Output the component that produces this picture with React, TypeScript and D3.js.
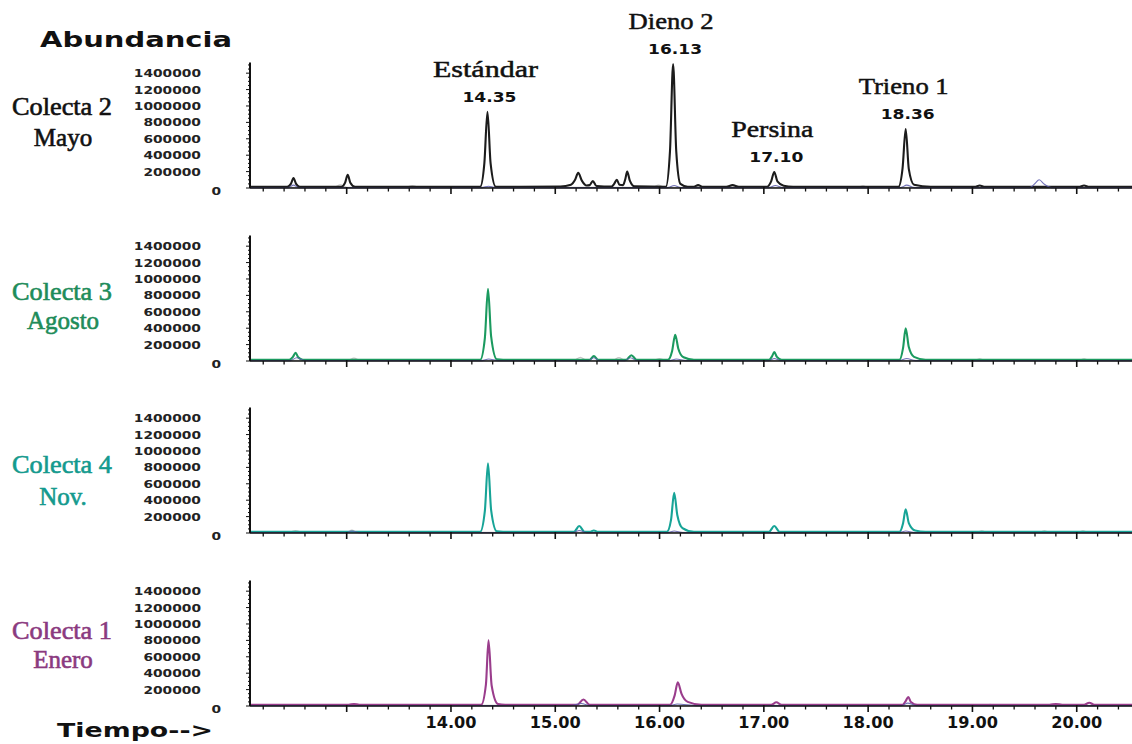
import React from "react";
import * as d3 from "d3";

type Pt = [number, number];

// ---------- data ----------
const TIME_TICKS = [14, 15, 16, 17, 18, 19, 20];
const TIME_LABELS = ["14.00", "15.00", "16.00", "17.00", "18.00", "19.00", "20.00"];
const ABUND_TICKS = [0, 200000, 400000, 600000, 800000, 1000000, 1200000, 1400000];

const PANEL_TITLES: [string, string][] = [
  ["Colecta 2", "Mayo"],
  ["Colecta 3", "Agosto"],
  ["Colecta 4", "Nov."],
  ["Colecta 1", "Enero"],
];

const PEAK_NAMES = ["Estándar", "Dieno 2", "Persina", "Trieno 1"];
const PEAK_RT = ["14.35", "16.13", "17.10", "18.36"];
const PEAK_TOP = [930000, 1510000, 195000, 720000];

const mayoTrace: Pt[] = [
  [12.07, 15000], [12.43, 15000], [12.465, 50000], [12.49, 120000], [12.515, 50000], [12.55, 15000],
  [12.95, 15000], [12.985, 65000], [13.01, 160000], [13.035, 65000], [13.08, 15000],
  [14.28, 15000], [14.32, 300000], [14.35, 930000], [14.38, 300000], [14.43, 15000],
  [15.05, 18000], [15.15, 40000], [15.19, 100000], [15.22, 185000], [15.255, 90000], [15.3, 30000],
  [15.33, 35000], [15.36, 85000], [15.395, 25000],
  [15.54, 18000], [15.565, 50000], [15.59, 100000], [15.615, 40000],
  [15.65, 35000], [15.67, 100000], [15.69, 200000], [15.715, 90000], [15.76, 20000],
  [16.06, 15000], [16.1, 450000], [16.13, 1510000], [16.16, 450000], [16.2, 50000], [16.27, 15000],
  [16.33, 15000], [16.37, 35000], [16.41, 15000],
  [16.64, 15000], [16.7, 35000], [16.76, 15000],
  [17.03, 15000], [17.07, 80000], [17.1, 195000], [17.13, 80000], [17.19, 28000], [17.28, 15000],
  [18.29, 15000], [18.33, 240000], [18.36, 720000], [18.39, 230000], [18.44, 40000], [18.6, 15000],
  [19.02, 15000], [19.07, 30000], [19.12, 15000],
  [20.02, 15000], [20.07, 30000], [20.12, 15000],
  [20.53, 15000],
];
const mayoBlue: Pt[] = [
  [12.07, 5000], [12.44, 5000], [12.49, 35000], [12.54, 5000], [14.3, 5000], [14.36, 22000], [14.42, 5000],
  [16.08, 5000], [16.14, 30000], [16.2, 5000], [17.05, 5000], [17.11, 30000], [17.18, 5000],
  [18.31, 5000], [18.37, 35000], [18.44, 5000], [19.55, 5000], [19.6, 55000], [19.64, 100000],
  [19.69, 45000], [19.76, 5000], [20.53, 5000],
];
const mayoGray: Pt[] = [
  [12.07, 8000], [12.88, 8000], [12.94, 38000], [13.0, 8000], [13.57, 8000], [13.63, 30000], [13.69, 8000],
  [15.93, 8000], [15.99, 35000], [16.05, 8000], [17.9, 8000], [17.95, 25000], [18.0, 8000], [20.53, 8000],
];

const agostoTrace: Pt[] = [
  [12.07, 15000], [12.45, 15000], [12.485, 50000], [12.51, 100000], [12.535, 45000], [12.58, 15000],
  [14.28, 15000], [14.325, 280000], [14.355, 880000], [14.385, 300000], [14.44, 20000], [14.5, 15000],
  [15.33, 15000], [15.37, 60000], [15.41, 15000],
  [15.68, 15000], [15.73, 70000], [15.78, 15000],
  [16.08, 15000], [16.12, 120000], [16.15, 320000], [16.18, 150000], [16.23, 45000], [16.33, 15000],
  [17.05, 15000], [17.08, 60000], [17.1, 110000], [17.125, 50000], [17.17, 15000],
  [18.3, 15000], [18.335, 160000], [18.36, 400000], [18.39, 170000], [18.44, 50000], [18.55, 15000],
  [20.53, 15000],
];
const agostoBlue: Pt[] = [
  [12.07, 5000], [12.46, 5000], [12.52, 40000], [12.6, 5000], [14.3, 5000], [14.36, 25000], [14.45, 5000],
  [15.32, 5000], [15.37, 40000], [15.42, 5000], [15.67, 5000], [15.72, 40000], [15.78, 5000],
  [16.1, 5000], [16.16, 25000], [16.25, 5000], [17.05, 5000], [17.1, 30000], [17.16, 5000],
  [18.3, 5000], [18.37, 30000], [18.45, 5000], [20.53, 5000],
];
const agostoGray: Pt[] = [
  [12.07, 8000], [13.01, 8000], [13.07, 35000], [13.13, 8000], [15.18, 8000], [15.24, 45000], [15.3, 8000],
  [15.55, 8000], [15.61, 40000], [15.67, 8000], [15.95, 8000], [16.0, 30000], [16.05, 8000],
  [19.02, 8000], [19.07, 25000], [19.12, 8000], [20.02, 8000], [20.07, 25000], [20.12, 8000], [20.53, 8000],
];

const novTrace: Pt[] = [
  [12.07, 15000], [14.28, 15000], [14.325, 270000], [14.355, 850000], [14.385, 280000], [14.44, 20000], [14.5, 15000],
  [15.18, 15000], [15.23, 85000], [15.28, 15000],
  [15.33, 15000], [15.37, 30000], [15.41, 15000],
  [16.07, 15000], [16.11, 160000], [16.14, 490000], [16.17, 220000], [16.22, 60000], [16.33, 15000],
  [17.05, 15000], [17.1, 85000], [17.15, 15000],
  [18.3, 15000], [18.335, 120000], [18.36, 290000], [18.39, 120000], [18.45, 30000], [18.55, 15000],
  [20.53, 15000],
];
const novBlue: Pt[] = [
  [12.07, 5000], [13.0, 5000], [13.05, 25000], [13.12, 5000], [15.17, 5000], [15.23, 30000], [15.3, 5000],
  [16.08, 5000], [16.14, 25000], [16.22, 5000], [18.3, 5000], [18.36, 25000], [18.44, 5000], [20.53, 5000],
];
const novGray: Pt[] = [
  [12.07, 8000], [12.45, 8000], [12.51, 30000], [12.57, 8000], [13.0, 8000], [13.05, 35000], [13.1, 8000],
  [19.04, 8000], [19.09, 25000], [19.14, 8000], [19.64, 8000], [19.69, 25000], [19.74, 8000],
  [20.01, 8000], [20.06, 25000], [20.11, 8000], [20.53, 8000],
];

const eneroTrace: Pt[] = [
  [12.07, 15000], [13.02, 15000], [13.07, 25000], [13.12, 15000],
  [14.29, 15000], [14.335, 260000], [14.36, 800000], [14.39, 250000], [14.45, 25000], [14.52, 15000],
  [15.21, 15000], [15.27, 80000], [15.33, 15000],
  [16.1, 15000], [16.145, 130000], [16.175, 290000], [16.21, 150000], [16.27, 50000], [16.4, 15000],
  [17.07, 15000], [17.12, 45000], [17.17, 15000],
  [18.33, 15000], [18.36, 60000], [18.385, 110000], [18.41, 50000], [18.47, 15000],
  [19.74, 15000], [19.8, 25000], [19.86, 15000],
  [20.07, 15000], [20.12, 40000], [20.17, 15000],
  [20.53, 15000],
];
const eneroBlue: Pt[] = [
  [12.07, 5000], [15.15, 5000], [15.25, 30000], [15.33, 5000], [16.1, 5000], [16.17, 25000], [16.35, 5000],
  [18.32, 5000], [18.38, 35000], [18.46, 5000], [20.53, 5000],
];
const eneroGray: Pt[] = [
  [12.07, 8000], [19.12, 8000], [19.17, 20000], [19.22, 8000], [20.53, 8000],
];

// ---------- layout ----------
const W = 1132;
const H = 744;
const X0 = 250;
const PANEL_BASE = [188, 361, 533, 706];
const PANEL_H = 125.5;
const Y_MAX = 1530000;
const TITLE_Y: [number, number][] = [[115, 146], [300, 329], [473, 505], [639, 668]];
const PANEL_COLORS = ["#1c1c1c", "#1b9a5f", "#17a497", "#9a3d8c"];
const TITLE_COLORS = ["#111111", "#1e8c5a", "#149a8e", "#8b3a7f"];

const TRACES = [mayoTrace, agostoTrace, novTrace, eneroTrace];
const BLUES = [mayoBlue, agostoBlue, novBlue, eneroBlue];
const GRAYS = [mayoGray, agostoGray, novGray, eneroGray];

const x = d3.scaleLinear().domain([12.073, 20.53]).range([X0, W]);
const minorTimes = d3.range(12.2, 20.55, 0.2).map((v) => Math.round(v * 10) / 10);

const SANS = "'DejaVu Sans', Verdana, sans-serif";
const SERIF = "'Liberation Serif', 'DejaVu Serif', serif";

function Panel({ i }: { i: number }) {
  const base = PANEL_BASE[i];
  const y = d3.scaleLinear().domain([0, Y_MAX]).range([base, base - PANEL_H]);
  const line = d3
    .line<Pt>()
    .x((d) => x(d[0]))
    .y((d) => y(d[1]))
    .curve(d3.curveMonotoneX);
  const minorY = d3.range(0, Y_MAX, 50000);
  return (
    <g>
      {/* titles */}
      <text x={62} y={TITLE_Y[i][0]} textAnchor="middle" fontFamily={SERIF} fontSize={25}
        fill={TITLE_COLORS[i]} stroke={TITLE_COLORS[i]} strokeWidth={0.6}
        textLength={100} lengthAdjust="spacingAndGlyphs">{PANEL_TITLES[i][0]}</text>
      <text x={63} y={TITLE_Y[i][1]} textAnchor="middle" fontFamily={SERIF} fontSize={25}
        fill={TITLE_COLORS[i]} stroke={TITLE_COLORS[i]} strokeWidth={0.6}>{PANEL_TITLES[i][1]}</text>
      {/* y tick labels */}
      {ABUND_TICKS.map((v) => {
        const s = String(v);
        return (
          <text key={v} x={v === 0 ? 221 : 201} y={v === 0 ? y(v) + 7 : y(v) + 4}
            textAnchor="end" fontFamily={SANS} fontWeight="bold" fontSize={11} fill="#222"
            textLength={s.length * 9.6} lengthAdjust="spacingAndGlyphs">{s}</text>
        );
      })}
      {/* traces */}
      <path d={line(GRAYS[i]) || ""} fill="none" stroke="#c4c4c4" strokeWidth={1.3} />
      <path d={line(TRACES[i]) || ""} fill="none" stroke={PANEL_COLORS[i]} strokeWidth={2.1} strokeLinejoin="round" />
      <path d={line(BLUES[i]) || ""} fill="none" stroke="#5b5bab" strokeWidth={1.1} opacity={0.85} />
      {/* y axis */}
      <line x1={X0} x2={X0} y1={y(Y_MAX)} y2={base} stroke="#111" strokeWidth={2} />
      {minorY.map((v) => (
        <line key={v} x1={X0 - (v % 200000 === 0 ? 4 : 2)} x2={X0} y1={y(v)} y2={y(v)} stroke="#111" strokeWidth={1} />
      ))}
      {/* x axis */}
      <line x1={X0} x2={W} y1={base} y2={base} stroke="#111" strokeWidth={1.6} />
      {minorTimes.map((t) => {
        const major = Math.abs(t - Math.round(t)) < 1e-6;
        return (
          <line key={t} x1={x(t)} x2={x(t)} y1={major ? base - 1 : base} y2={base + (major ? 6 : 3.5)}
            stroke="#111" strokeWidth={major ? 1.6 : 1.3} />
        );
      })}
      {i === PANEL_BASE.length - 1 &&
        TIME_TICKS.map((t, k) => (
          <text key={t} x={x(t)} y={base + 22} textAnchor="middle" fontFamily={SANS} fontWeight="bold"
            fontSize={16} fill="#111" textLength={51} lengthAdjust="spacingAndGlyphs">{TIME_LABELS[k]}</text>
        ))}
    </g>
  );
}

export default function App() {
  const yTop = d3.scaleLinear().domain([0, Y_MAX]).range([PANEL_BASE[0], PANEL_BASE[0] - PANEL_H]);
  const nameW = [105, 85, 82, 90];
  return (
    <svg width={W} height={H} style={{ position: "absolute", left: 0, top: 0, background: "#fff" }}>
      <rect width={W} height={H} fill="#fff" />
      <text x={40} y={47} fontFamily={SANS} fontWeight="bold" fontSize={21} fill="#111"
        textLength={192} lengthAdjust="spacingAndGlyphs">Abundancia</text>
      <text x={57} y={737} fontFamily={SANS} fontWeight="bold" fontSize={20} fill="#111"
        textLength={156} lengthAdjust="spacingAndGlyphs">Tiempo--&gt;</text>
      {PANEL_BASE.map((_, i) => (
        <Panel key={i} i={i} />
      ))}
      {PEAK_NAMES.map((n, k) => {
        const px = x(parseFloat(PEAK_RT[k]));
        const py = yTop(PEAK_TOP[k]);
        return (
          <g key={n}>
            <text x={px - 2} y={py - 35} textAnchor="middle" fontFamily={SERIF} fontSize={24} fill="#111"
              stroke="#111" strokeWidth={0.5}
              textLength={nameW[k]} lengthAdjust="spacingAndGlyphs">{n}</text>
            <text x={px + 2} y={py - 10} textAnchor="middle" fontFamily={SANS} fontWeight="bold" fontSize={13.5}
              fill="#111" textLength={54} lengthAdjust="spacingAndGlyphs">{PEAK_RT[k]}</text>
          </g>
        );
      })}
    </svg>
  );
}
